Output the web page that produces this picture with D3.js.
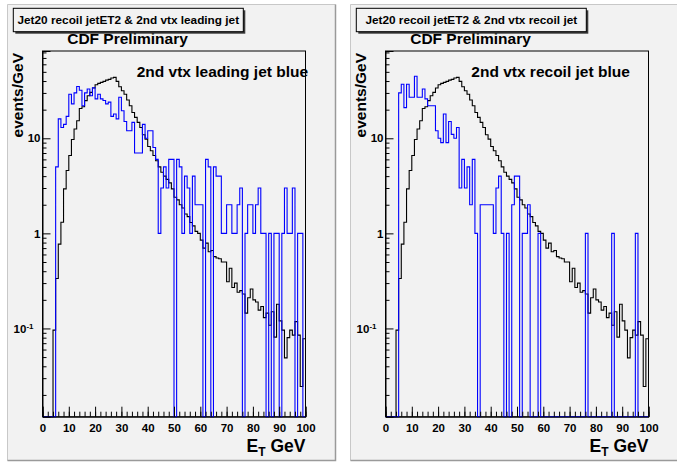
<!DOCTYPE html>
<html>
<head>
<meta charset="utf-8">
<script src="https://cdn.jsdelivr.net/npm/d3@7"></script>
<style>
  body { margin: 0; background: #ffffff; }
  svg { display: block; }
  text { font-family: "Liberation Sans", Arial, Helvetica, sans-serif; font-weight: bold; fill: #000; }
</style>
</head>
<body>
<svg id="canvas" width="677" height="463"></svg>
<script>
// Histogram binning: 100 bins of 1 GeV between 0 and 100 GeV
const etMin = 0, etMax = 100, nBins = 100;

// Jet20 recoil jet ET2 spectrum (events/GeV), black
const recoilJetET2 = [
  0, 0, 0, 0, 0.096, 0.335, 0.77, 1.31, 2.94, 4.58,
  6.58, 9.7, 12.5, 15.3, 20.6, 21.5, 24.9, 28.0, 30.4, 33.8,
  36.6, 37.8, 38.7, 39.7, 40.9, 41.6, 43.0, 43.7, 39.7, 34.9,
  31.6, 29.1, 25.3, 22.0, 18.7, 16.6, 14.7, 13.0, 10.9, 9.8,
  8.2, 7.4, 6.6, 5.8, 5.0, 4.4, 4.0, 3.7, 3.4, 2.94,
  2.4, 2.25, 2.0, 1.85, 1.6, 1.5, 1.3, 1.2, 1.05, 1.0,
  0.85, 0.70, 0.79, 0.64, 0.66, 0.57, 0.55, 0.54, 0.50, 0.50,
  0.31, 0.43, 0.27, 0.30, 0.24, 0.25, 0.23, 0.145, 0.21, 0.26,
  0.20, 0.19, 0.156, 0.17, 0.13, 0.145, 0.108, 0.15, 0.081, 0.18,
  0.12, 0.096, 0.049, 0.08, 0.096, 0.085, 0.118, 0.085, 0.0245, 0.078
];

// 2nd vertex leading jet (events/GeV), blue, left pad
const vtxLeadingJet = [
  0, 0, 0, 0, 0, 5, 16, 13, 14, 17,
  29, 23, 30, 35, 32, 22, 30, 33, 28, 34,
  26, 29, 26, 25, 23, 24, 17, 18, 16, 27,
  19.5, 15, 12, 12, 14.7, 7, 7, 7, 14, 10,
  12, 12, 8, 6, 1, 3, 5, 3, 6, 6,
  0, 6, 5, 1, 4, 3, 1, 4, 2, 2,
  2, 0, 6, 5, 0, 5, 4, 4, 1, 1,
  2, 2, 1, 1, 2, 3, 0, 1, 2, 2,
  1, 2, 3, 1, 1, 0, 1, 0, 1, 1,
  0, 1, 3, 1, 1, 3, 0, 1, 1, 0
];

// 2nd vertex recoil jet (events/GeV), blue, right pad
const vtxRecoilJet = [
  0, 0, 0, 0, 0, 30, 37, 21, 37, 27,
  27, 45, 27, 27, 33, 26, 22, 22, 22, 12,
  10, 9, 18, 9, 15, 11, 10, 13, 3, 6,
  3, 5, 2, 6, 1, 0, 2, 2, 2, 2,
  2, 1, 3, 4, 1, 0, 1, 0, 2, 4,
  4, 0, 1, 1, 2, 0, 0, 0, 1, 0,
  0, 0, 0, 0, 0, 0, 0, 0, 0, 0,
  0, 0, 0, 0, 0, 0, 1, 0, 0, 0,
  0, 0, 0, 0, 0, 0, 1, 0, 0, 0,
  0, 0, 0, 0, 0, 1, 0, 0, 0, 0
];

// Axis ticks
const xMajorTicks = [0, 10, 20, 30, 40, 50, 60, 70, 80, 90, 100];
const xMinorTicks = d3.range(0, 101, 2);
const yMajorTicks = [0.1, 1, 10];
const yMinorTicks = [0.02,0.03,0.04,0.05,0.06,0.07,0.08,0.09,
                     0.2,0.3,0.4,0.5,0.6,0.7,0.8,0.9,
                     2,3,4,5,6,7,8,9,20,30,40,50,60,70,80];

const panelTitles = ["Jet20 recoil jetET2 & 2nd vtx leading jet",
                     "Jet20 recoil jetET2 & 2nd vtx recoil jet"];
const panelLabels = ["2nd vtx leading jet blue", "2nd vtx recoil jet blue"];
const panelBlue = [vtxLeadingJet, vtxRecoilJet];
const padOrigins = [10, 353];

const svg = d3.select("#canvas");
const yMin = 0.0118, yMax = 82.8;

function drawPad(i) {
  const ox = padOrigins[i];
  const g = svg.append("g");

  // pad background with bevelled border
  g.append("rect").attr("x", ox - 3).attr("y", 4).attr("width", 329).attr("height", 457)
    .attr("fill", "#f2f2f2").attr("stroke", "none");
  g.append("path").attr("d", `M${ox-2.5},460.5 V4.5 H${ox+325.5}`)
    .attr("fill", "none").attr("stroke", "#c8c8c8").attr("stroke-width", 1);
  g.append("path").attr("d", `M${ox-2.5},460.5 H${ox+325.5} V4.5`)
    .attr("fill", "none").attr("stroke", "#9a9a9a").attr("stroke-width", 1.5);

  const fx0 = ox + 32.5, fx1 = ox + 295.5, fy0 = 51, fy1 = 416.7;
  const x = d3.scaleLinear().domain([etMin, etMax]).range([fx0, fx1]);
  const y = d3.scaleLog().domain([yMin, yMax]).range([fy1, fy0]).clamp(true);

  // frame
  g.append("rect").attr("x", fx0).attr("y", fy0).attr("width", fx1 - fx0).attr("height", fy1 - fy0)
    .attr("fill", "#f2f2f2").attr("stroke", "#000").attr("stroke-width", 1);

  // histograms as steps, zero bins sit on the lower frame edge
  const binWidth = (etMax - etMin) / nBins;
  const step = d3.line()
    .x(d => x(d[0]))
    .y(d => d[1] > 0 ? y(d[1]) : fy1)
    .curve(d3.curveStepAfter);
  function pts(vals) {
    const p = vals.map((v, k) => [etMin + k * binWidth, v]);
    p.push([etMax, vals[vals.length - 1]]);
    return p;
  }
  g.append("path").attr("d", step(pts(recoilJetET2)))
    .attr("fill", "none").attr("stroke", "#000").attr("stroke-width", 1.1);
  g.append("path").attr("d", step(pts(panelBlue[i])))
    .attr("fill", "none").attr("stroke", "#0000ff").attr("stroke-width", 1.1);

  // x axis (ticks pointing into the frame)
  const xAxis = g.append("g").attr("transform", `translate(0,${fy1})`)
    .call(d3.axisBottom(x).tickValues(xMajorTicks).tickSize(-10).tickPadding(7).tickFormat(d3.format("d")));
  g.append("g").attr("transform", `translate(0,${fy1})`)
    .call(d3.axisBottom(x).tickValues(xMinorTicks).tickSize(-5).tickFormat(""))
    .call(a => a.select(".domain").remove());
  xAxis.select(".domain").attr("stroke", "#000");
  xAxis.selectAll("text").attr("font-size", "11.5px").attr("font-family", null)
    .style("font-weight", "bold");

  // y axis (log)
  const yAxis = g.append("g").attr("transform", `translate(${fx0},0)`)
    .call(d3.axisLeft(y).tickValues(yMajorTicks).tickSize(-8).tickPadding(2).tickFormat(d => d >= 1 ? String(d) : "10"));
  g.append("g").attr("transform", `translate(${fx0},0)`)
    .call(d3.axisLeft(y).tickValues(yMinorTicks).tickSize(-4).tickFormat(""))
    .call(a => a.select(".domain").remove());
  yAxis.selectAll("text").attr("font-size", "11.5px").attr("font-family", null)
    .style("font-weight", "bold")
    .each(function(d) {
      if (d < 1) {
        const t = d3.select(this);
        t.attr("x", -9);
        t.append("tspan").attr("dy", "-0.45em").attr("font-size", "8px").text("-1");
      }
    });

  // axis titles
  g.append("text").attr("transform", `translate(${ox + 13},${fy0 + 2}) rotate(-90)`)
    .attr("text-anchor", "end").attr("font-size", "15.5px").text("events/GeV");
  const xt = g.append("text").attr("x", fx1).attr("y", 451.5)
    .attr("text-anchor", "end").attr("font-size", "17.5px");
  xt.append("tspan").text("E");
  xt.append("tspan").attr("dy", "4").attr("font-size", "12px").text("T");
  xt.append("tspan").attr("dy", "-4").text(" GeV");

  // CDF label and series note
  g.append("text").attr("x", ox + 117.5).attr("y", 44).attr("text-anchor", "middle")
    .attr("font-size", "15.5px").text("CDF Preliminary");
  g.append("text").attr("x", ox + (i === 0 ? 126.7 : 118.3)).attr("y", 76.5)
    .attr("font-size", "15.5px").text(panelLabels[i]);

  // title box with shadow
  const bx = ox + 3.3, by = 8.3, bw = 230, bh = 23.4;
  g.append("rect").attr("x", bx + 2).attr("y", by + 2).attr("width", bw).attr("height", bh).attr("fill", "#3a3a3a");
  g.append("rect").attr("x", bx).attr("y", by).attr("width", bw).attr("height", bh)
    .attr("fill", "#f2f2f2").attr("stroke", "#000").attr("stroke-width", 1);
  g.append("text").attr("x", bx + bw / 2).attr("y", by + 16).attr("text-anchor", "middle")
    .attr("font-size", "11.8px").text(panelTitles[i]);
}

drawPad(0);
drawPad(1);
</script>
</body>
</html>
